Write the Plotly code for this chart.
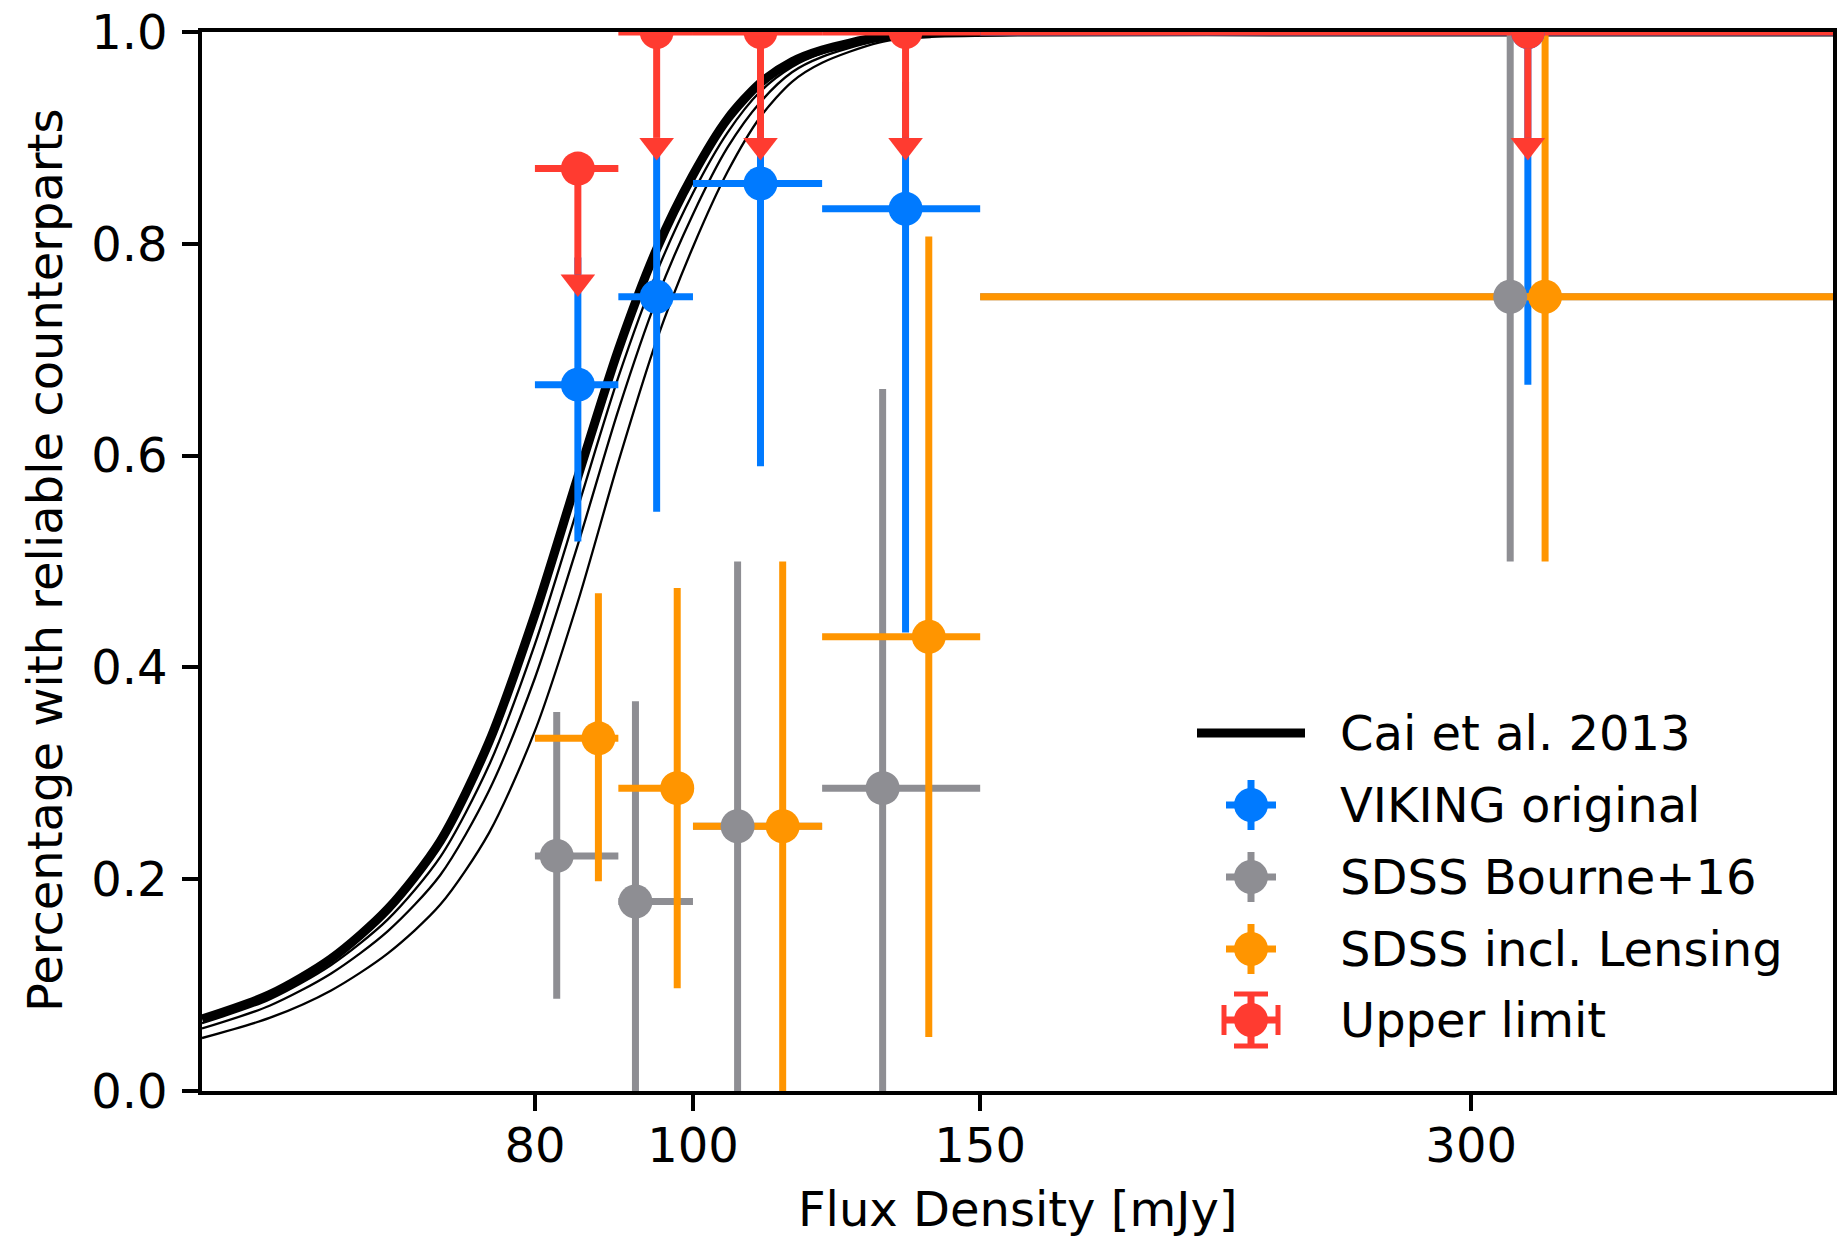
import numpy as np
import plotly.graph_objects as go

# ---------------- data ----------------
# flux-density bins (mJy)
bin_lo = [80, 90, 100, 120, 150]
bin_hi = [90, 100, 120, 150, 500]
bin_mid = [85, 95, 110, 135, 325]

# VIKING original
viking_x = bin_mid
viking_y = [0.667, 0.750, 0.857, 0.833, 1.000]
viking_err_lo = [0.148, 0.203, 0.267, 0.400, 0.333]
viking_err_hi = [0.120, 0.150, 0.100, 0.120, 0.000]

# SDSS Bourne+16
bourne_x = [82.5, 92.2, 106.5, 130.7, 317.0]
bourne_y = [0.222, 0.179, 0.250, 0.286, 0.750]
bourne_err_lo = [0.135, 0.179, 0.250, 0.286, 0.250]
bourne_err_hi = [0.136, 0.189, 0.250, 0.377, 0.250]

# SDSS including lensing
lens_x = [87.5, 97.8, 113.5, 139.5, 333.0]
lens_y = [0.333, 0.286, 0.250, 0.429, 0.750]
lens_err_lo = [0.135, 0.189, 0.250, 0.378, 0.250]
lens_err_hi = [0.137, 0.189, 0.250, 0.378, 0.250]

# upper limits
limit_x = bin_mid
limit_y = [0.871, 1.0, 1.0, 1.0, 1.0]
limit_arrow = 0.1

# Cai et al. 2013 model curves
cai_flux = [50, 55, 60, 65, 70, 75, 80, 85, 90, 95, 100, 105, 110, 115, 120, 130, 140, 160, 250, 500]
cai_main = [0.068, 0.091, 0.125, 0.172, 0.236, 0.330, 0.450, 0.580, 0.700, 0.795, 0.865, 0.918,
            0.952, 0.972, 0.983, 0.995, 0.9985, 1.0, 1.0, 1.0]
cai_alt1 = [0.064, 0.0865, 0.119, 0.162, 0.221, 0.308, 0.422, 0.551, 0.674, 0.773, 0.848, 0.905,
            0.944, 0.967, 0.980, 0.9937, 0.998, 1.0, 1.0, 1.0]
cai_alt2 = [0.059, 0.0805, 0.111, 0.151, 0.204, 0.284, 0.390, 0.516, 0.643, 0.748, 0.828, 0.891,
            0.934, 0.962, 0.9765, 0.992, 0.9976, 1.0, 1.0, 1.0]
cai_alt3 = [0.050, 0.069, 0.095, 0.130, 0.176, 0.244, 0.340, 0.462, 0.594, 0.709, 0.797, 0.868,
            0.920, 0.953, 0.971, 0.990, 0.9965, 0.9995, 1.0, 1.0]

y_ticks = [0.0, 0.2, 0.4, 0.6, 0.8, 1.0]
x_ticks = [80, 100, 150, 300]

# ---------------- style ----------------
BLUE = "#007AFF"
GRAY = "#8E8E93"
ORANGE = "#FF9500"
RED = "#FF3B30"
FONT = "DejaVu Sans"
FS = 48

W, H = 1846, 1238
M_L, M_R, M_T, M_B = 202, 13, 32, 147
PLOT_W = W - M_L - M_R
PLOT_H = H - M_T - M_B

ERR_W = 7
MARK = 34

fig = go.Figure()

# model curves
for ys in (cai_alt1, cai_alt2, cai_alt3):
    fig.add_trace(go.Scatter(x=cai_flux, y=ys, mode="lines",
                             line=dict(color="black", width=2.3, shape="spline", smoothing=0.8),
                             showlegend=False, hoverinfo="skip"))
fig.add_trace(go.Scatter(x=cai_flux, y=cai_main, mode="lines",
                         line=dict(color="black", width=9, shape="spline", smoothing=0.8),
                         showlegend=False, hoverinfo="skip"))


def xerr(xs):
    return ([h - x for x, h in zip(xs, bin_hi)], [x - l for x, l in zip(xs, bin_lo)])


def err_trace(xs, ys, elo, ehi, color):
    plus, minus = xerr(xs)
    return go.Scatter(
        x=xs, y=ys, mode="markers",
        marker=dict(size=1, color="rgba(0,0,0,0)"),
        error_x=dict(type="data", symmetric=False, array=plus, arrayminus=minus,
                     color=color, thickness=ERR_W, width=0),
        error_y=dict(type="data", symmetric=False, array=ehi, arrayminus=elo,
                     color=color, thickness=ERR_W, width=0),
        showlegend=False, hoverinfo="skip")


series = [
    (viking_x, viking_y, viking_err_lo, viking_err_hi, BLUE),
    (bourne_x, bourne_y, bourne_err_lo, bourne_err_hi, GRAY),
    (lens_x, lens_y, lens_err_lo, lens_err_hi, ORANGE),
    (limit_x, limit_y, [limit_arrow] * len(limit_y), [0] * len(limit_y), RED),
]

# error bars first, then all markers on top
for xs, ys, elo, ehi, c in series:
    fig.add_trace(err_trace(xs, ys, elo, ehi, c))

# arrow heads of the upper limits (base of the caret at the end of the bar)
TRI = 30
caret_shift = (TRI / 4) / PLOT_H
fig.add_trace(go.Scatter(
    x=limit_x, y=[v - limit_arrow - caret_shift for v in limit_y], mode="markers",
    marker=dict(symbol="triangle-down", size=TRI, color=RED, line=dict(width=0)),
    showlegend=False, hoverinfo="skip"))

for xs, ys, elo, ehi, c in series:
    fig.add_trace(go.Scatter(x=xs, y=ys, mode="markers",
                             marker=dict(size=MARK, color=c, line=dict(width=0)),
                             showlegend=False, hoverinfo="skip"))

# ---------------- legend (drawn inside the axes) ----------------
def px_to_paper_x(px):
    return (px - M_L) / PLOT_W


def py_to_paper_y(py):
    return (H - M_B - py) / PLOT_H


legend_rows = [733, 805, 877, 949, 1020]
legend_labels = ["Cai et al. 2013", "VIKING original", "SDSS Bourne+16",
                 "SDSS incl. Lensing", "Upper limit"]
legend_colors = ["black", BLUE, GRAY, ORANGE, RED]
glyph_cx = px_to_paper_x(1251)
text_x = px_to_paper_x(1338)

shapes = []


def pix_shape(kind, cx, cy, x0, x1, y0, y1, **kw):
    d = dict(type=kind, xref="paper", yref="paper", xsizemode="pixel", ysizemode="pixel",
             xanchor=cx, yanchor=cy, x0=x0, x1=x1, y0=y0, y1=y1)
    d.update(kw)
    return d


for i, (row, lab, c) in enumerate(zip(legend_rows, legend_labels, legend_colors)):
    cy = py_to_paper_y(row)
    if i == 0:
        shapes.append(pix_shape("line", glyph_cx, cy, -54, 54, 0, 0,
                                line=dict(color=c, width=9)))
    else:
        arm = 25
        shapes.append(pix_shape("line", glyph_cx, cy, -arm, arm, 0, 0,
                                line=dict(color=c, width=ERR_W)))
        shapes.append(pix_shape("line", glyph_cx, cy, 0, 0, -arm, arm,
                                line=dict(color=c, width=ERR_W)))
        if lab == "Upper limit":
            shapes.append(pix_shape("line", glyph_cx, cy, -27, -27, -15, 15,
                                    line=dict(color=c, width=5)))
            shapes.append(pix_shape("line", glyph_cx, cy, 27, 27, -15, 15,
                                    line=dict(color=c, width=5)))
            shapes.append(pix_shape("line", glyph_cx, cy, -17, 17, 26, 26,
                                    line=dict(color=c, width=5)))
            shapes.append(pix_shape("line", glyph_cx, cy, -17, 17, -26, -26,
                                    line=dict(color=c, width=5)))
        shapes.append(pix_shape("circle", glyph_cx, cy, -MARK / 2, MARK / 2, -MARK / 2, MARK / 2,
                                fillcolor=c, line=dict(width=0)))
    fig.add_annotation(x=text_x, y=cy, xref="paper", yref="paper", text=lab,
                       showarrow=False, xanchor="left", yanchor="middle",
                       font=dict(family=FONT, size=FS, color="black"))

# axis titles
fig.add_annotation(x=0.5, y=py_to_paper_y(1209), xref="paper", yref="paper",
                   text="Flux Density [mJy]", showarrow=False,
                   xanchor="center", yanchor="middle",
                   font=dict(family=FONT, size=FS, color="black"))
fig.add_annotation(x=px_to_paper_x(45), y=py_to_paper_y(561), xref="paper", yref="paper",
                   text="Percentage with reliable counterparts", showarrow=False,
                   textangle=-90, xanchor="center", yanchor="middle",
                   font=dict(family=FONT, size=FS, color="black"))

axis_common = dict(
    showline=True, linecolor="black", linewidth=3.5, mirror=True,
    ticks="outside", ticklen=16, tickwidth=3.5, tickcolor="black",
    showgrid=False, zeroline=False, automargin=False,
    tickfont=dict(family=FONT, size=FS, color="black"),
)

fig.update_layout(
    width=W, height=H,
    margin=dict(l=M_L, r=M_R, t=M_T, b=M_B, pad=0),
    paper_bgcolor="white", plot_bgcolor="white",
    font=dict(family=FONT, size=FS, color="black"),
    shapes=shapes,
    showlegend=False,
    xaxis=dict(type="log", range=[np.log10(50), np.log10(500)],
               tickvals=x_ticks, ticktext=[str(v) for v in x_ticks],
               ticklabelstandoff=-6,
               **axis_common),
    yaxis=dict(range=[0, 1], tickvals=y_ticks, ticktext=[f"{v:.1f}" for v in y_ticks],
               ticklabelstandoff=5,
               **axis_common),
)

fig.write_html("out.html")
